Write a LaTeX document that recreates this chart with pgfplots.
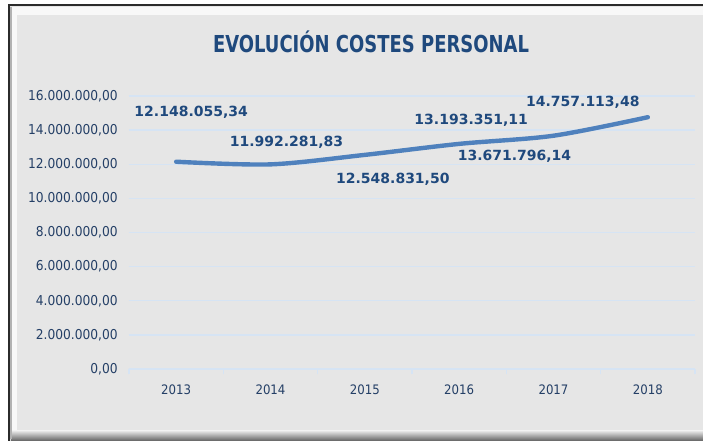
\documentclass[border=0pt]{standalone}
\usepackage{fontspec}
\setmainfont{DejaVu Sans}
\newfontfamily\titlefont[FakeStretch=0.77]{DejaVu Sans}
\newfontfamily\tickfont[FakeStretch=0.9]{DejaVu Sans}
\usepackage{pgfplots}
\pgfplotsset{compat=1.18}
\definecolor{bg}{HTML}{E6E6E6}
\definecolor{ttl}{HTML}{1F497D}
\definecolor{tck}{HTML}{243F66}
\definecolor{grd}{HTML}{D6E4F4}
\definecolor{ln}{HTML}{4F81BD}
\definecolor{frm}{HTML}{2B2B2B}

\begin{document}
\begin{tikzpicture}[x=0.75pt,y=0.75pt,
  lbl/.style={font=\bfseries\fontsize{10.5}{12}\selectfont, text=ttl}]
% page and chart frame (1 unit = 1 px of the reference)
\fill[white] (-129,-72) rectangle (574,369);
\fill[bg] (-120,-72) rectangle (574,364);
\fill[white!70!bg] (-118,362) rectangle (574,354);
\fill[white!70!bg] (-118,362) rectangle (-112,-62);
\fill[bg] (-112,354) rectangle (574,-62);
\shade[top color=bg, bottom color=gray!75!black] (-118,-62) rectangle (574,-72);
\draw[frm, line width=1.5pt] (-120,-72) -- (-120,364) -- (574,364);
\draw[gray!60, line width=1pt] (-118,-70) -- (-118,362);

\begin{axis}[
  at={(0,0)}, anchor=south west,
  scale only axis, width=424.5pt, height=204.75pt,
  xmin=-0.5, xmax=5.5, ymin=0, ymax=16000000,
  xtick={0,1,2,3,4,5},
  xticklabels={2013,2014,2015,2016,2017,2018},
  minor xtick={-0.5,0.5,1.5,2.5,3.5,4.5,5.5},
  ytick={0,2000000,4000000,6000000,8000000,10000000,12000000,14000000,16000000},
  scaled y ticks=false,
  yticklabel style={/pgf/number format/fixed, /pgf/number format/precision=2,
    /pgf/number format/zerofill, /pgf/number format/1000 sep={.},
    /pgf/number format/use comma, /pgf/number format/assume math mode=true,
    font=\tickfont\fontsize{10.2}{12}\selectfont, text=tck, xshift=-5pt},
  axis x line*=bottom, axis y line*=left,
  x axis line style={draw=grd, line width=1pt},
  y axis line style={draw=none},
  ymajorgrids, grid style={draw=grd, line width=1pt},
  major tick length=0pt, minor tick length=4pt,
  xtick align=outside,
  minor x tick style={draw=grd, line width=1pt},
  xticklabel style={font=\tickfont\fontsize{9.8}{11}\selectfont, text=tck, yshift=-8pt},
  clip=false,
]
\addplot[ln, line width=3.3pt, smooth, line cap=round] coordinates {
(0,12148055.34) (1,11992281.83) (2,12548831.50) (3,13193351.11) (4,13671796.14) (5,14757113.48)};
\node[lbl, xshift=15*0.75pt, yshift=49*0.75pt] at (axis cs:0,12148055.34) {12.148.055,34};
\node[lbl, xshift=16*0.75pt, yshift=22.5*0.75pt] at (axis cs:1,11992281.83) {11.992.281,83};
\node[lbl, xshift=28*0.75pt, yshift=-24.7*0.75pt] at (axis cs:2,12548831.50) {12.548.831,50};
\node[lbl, xshift=12*0.75pt, yshift=24*0.75pt] at (axis cs:3,13193351.11) {13.193.351,11};
\node[lbl, xshift=-39*0.75pt, yshift=-21*0.75pt] at (axis cs:4,13671796.14) {13.671.796,14};
\node[lbl, xshift=-65*0.75pt, yshift=15*0.75pt] at (axis cs:5,14757113.48) {14.757.113,48};
\end{axis}
\node[text=ttl, font=\titlefont\bfseries\fontsize{17.5}{20}\selectfont] at (242,327) {EVOLUCIÓN COSTES PERSONAL};
\pgfresetboundingbox
\path (-129,-72) rectangle (574,369);
\end{tikzpicture}
\end{document}
